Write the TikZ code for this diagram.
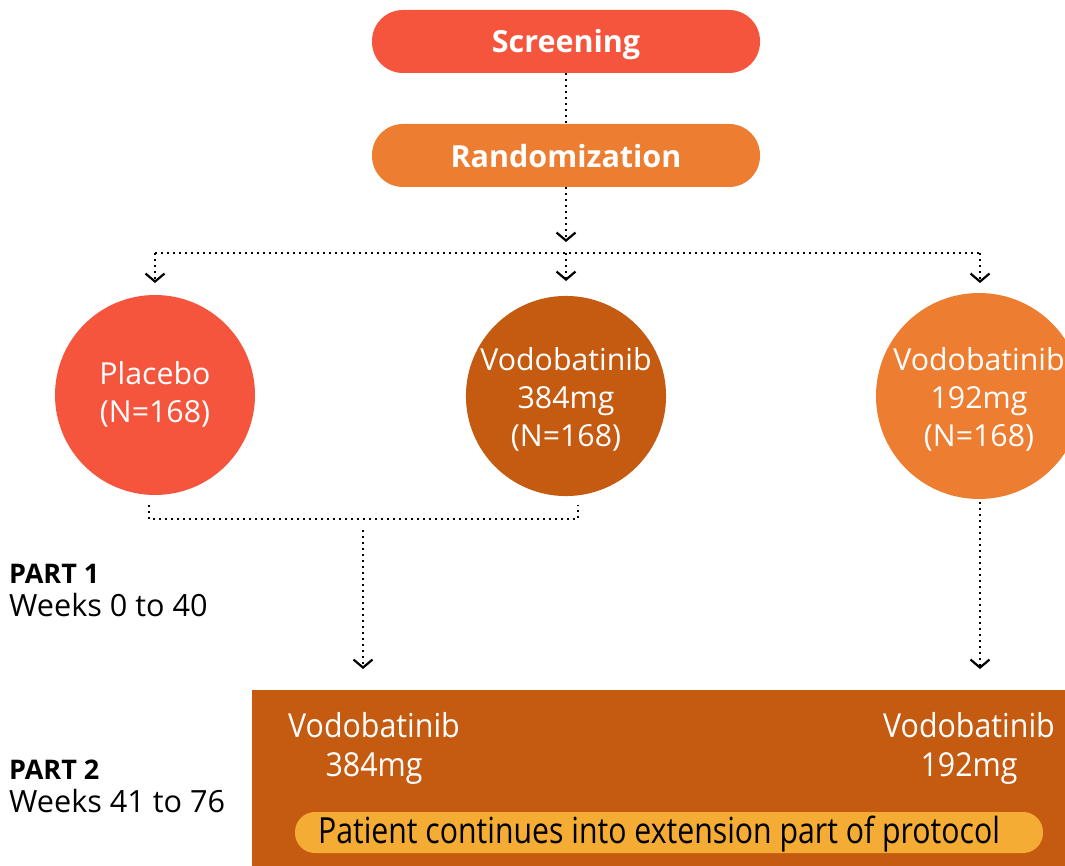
\documentclass[tikz,border=0pt]{standalone}
\usepackage{fontspec}
\setmainfont{Open Sans}
\newfontfamily\condfont[FakeStretch=0.92]{Open Sans}
\newfontfamily\narrowfont[FakeStretch=0.84]{Open Sans}
\usetikzlibrary{arrows.meta,calc}
\definecolor{cred}{HTML}{F5553D}
\definecolor{corange}{HTML}{ED7D31}
\definecolor{cbrown}{HTML}{C55A11}
\definecolor{cyellow}{HTML}{F5AC35}
\newcommand{\lowr}[2]{\raisebox{-#1}[\height][\depth]{#2}}
\tikzset{
  pill/.style={rounded corners=31pt, minimum width=388pt, minimum height=63pt, inner sep=0pt,
    text=white, font=\bfseries\fontsize{30.5}{34}\selectfont},
  disc/.style={circle, minimum size=200pt, inner sep=0pt, align=center, text=white,
    font=\fontsize{30.3}{38}\selectfont},
  dotline/.style={line width=2pt, dash pattern=on 2pt off 4pt},
  arr/.style={-{Straight Barb[length=8pt,width=19pt,line width=2.2pt]}},
  sidehead/.style={anchor=west, inner sep=0pt, font=\bfseries\fontsize{27}{30}\selectfont},
  sidetext/.style={anchor=west, inner sep=0pt, font=\fontsize{30.6}{34}\selectfont},
  boxtext/.style={align=center, text=white, inner sep=0pt, font=\condfont\fontsize{33}{39}\selectfont},
}
\begin{document}
\begin{tikzpicture}[x=1pt,y=-1pt]
\useasboundingbox (0,0) rectangle (1065,866);
\clip (0,0) rectangle (1065,866);

\node[pill, fill=cred] (scr) at (566,41.5) {\lowr{3pt}{Screening}};
\node[pill, fill=corange] (rand) at (566,155.5) {\lowr{1pt}{Randomization}};

\node[disc, fill=cred] (plac) at (155,395) {\lowr{-1pt}{Placebo}\\\lowr{-1pt}{(N=168)}};
\node[disc, fill=cbrown] (hi) at (566,396) {\lowr{3pt}{Vodobatinib}\\\lowr{3pt}{384mg}\\\lowr{3pt}{(N=168)}};
\node[disc, fill=corange, minimum size=206pt] (lo) at (979,396) {\lowr{3pt}{Vodobatinib}\\\lowr{3pt}{192mg}\\\lowr{3pt}{(N=168)}};

\node[fill=cbrown, anchor=north west, minimum width=830pt, minimum height=190pt, inner sep=0pt] (box) at (252,690) {};
\node[boxtext] (bhi) at (374,748) {Vodobatinib\\384mg};
\node[boxtext] (blo) at (969,748) {Vodobatinib\\192mg};
\node[fill=cyellow, rounded corners=20pt, minimum width=748pt, minimum height=41pt, inner sep=0pt,
  font=\narrowfont\fontsize{36}{38}\selectfont] (ext) at (669,832.5) {\hspace*{-20pt}\lowr{2pt}{Patient continues into extension part of protocol}};

\node[sidehead] (p1h) at (9,574) {PART 1};
\node[sidetext] (p1t) at (9,605) {Weeks 0 to 40};
\node[sidehead] (p2h) at (9,770) {PART 2};
\node[sidetext] (p2t) at (9,801) {Weeks 41 to 76};

% connectors
\coordinate (split) at (566,253);
\coordinate (splitL) at (155,253);
\coordinate (splitR) at (980,253);
\draw[dotline] (scr.south) -- (rand.north);
\draw[dotline, arr] (rand.south) -- (566,242);
\draw[dotline] (splitL) -- (splitR);
\draw[dotline, arr] (splitL) -- (155,283);
\draw[dotline, arr] (split) -- (566,281);
\draw[dotline, arr] (splitR) -- (980,283);

\coordinate (jl) at (149,505);
\coordinate (jr) at (578,505);
\coordinate (jm) at (363,530);
\draw[dotline] (jl) -- (149,519) -- (578,519) -- (jr);
\coordinate (endhi) at (363,669);
\coordinate (startlo) at (980,502);
\coordinate (endlo) at (980,669);
\draw[dotline, arr] (jm) -- (endhi);
\draw[dotline, arr] (startlo) -- (endlo);
\end{tikzpicture}
\end{document}
